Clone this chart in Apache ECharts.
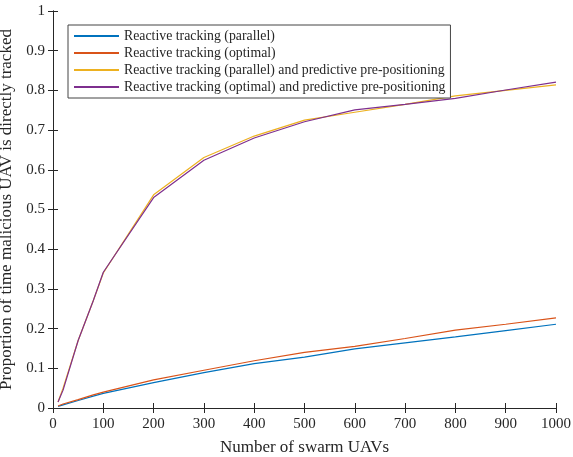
<!DOCTYPE html>
<html lang="en">
<head>
    <meta charset="UTF-8">
    <title>Swarm tracking</title>
    <script src="https://cdn.jsdelivr.net/npm/echarts@6/dist/echarts.min.js"></script>
    <style>
        html, body { margin: 0; padding: 0; background: #fff; }
        #chart { width: 573px; height: 457px; }
    </style>
</head>
<body>
    <div id="chart"></div>

    <script>
        // number of swarm UAVs
        var uavs = [10, 20, 50, 80, 100, 200, 300, 400, 500, 600, 700, 800, 900, 1000];

        var reactiveParallel = [0.004, 0.008, 0.019, 0.030, 0.037, 0.064, 0.089, 0.112, 0.128, 0.149, 0.164, 0.179, 0.195, 0.211];
        var reactiveOptimal = [0.005, 0.010, 0.021, 0.033, 0.040, 0.071, 0.095, 0.119, 0.140, 0.155, 0.175, 0.196, 0.211, 0.227];
        var predictiveParallel = [0.015, 0.050, 0.170, 0.270, 0.340, 0.537, 0.631, 0.685, 0.725, 0.745, 0.765, 0.786, 0.800, 0.814];
        var predictiveOptimal = [0.015, 0.045, 0.170, 0.270, 0.342, 0.530, 0.624, 0.680, 0.721, 0.751, 0.765, 0.780, 0.801, 0.821];

        var names = [
            'Reactive tracking (parallel)',
            'Reactive tracking (optimal)',
            'Reactive tracking (parallel) and predictive pre-positioning',
            'Reactive tracking (optimal) and predictive pre-positioning'
        ];
        var colors = ['#0072BD', '#D95319', '#EDB120', '#7E2F8E'];
        var values = [reactiveParallel, reactiveOptimal, predictiveParallel, predictiveOptimal];

        var font = "'Liberation Serif', 'Times New Roman', serif";
        var ink = '#262626';

        var s = [];
        for (var i = 0; i < values.length; i++) {
            var pts = [];
            for (var j = 0; j < uavs.length; j++) pts.push([uavs[j], values[i][j]]);
            s.push({
                name: names[i],
                type: 'line',
                data: pts,
                symbol: 'none',
                color: colors[i],
                lineStyle: { width: 1.2, color: colors[i] }
            });
        }

        var axisLine = { show: true, lineStyle: { color: ink, width: 1 } };
        var tick = { show: true, inside: true, length: 5, lineStyle: { color: ink } };

        var myChart = echarts.init(document.getElementById('chart'));
        myChart.setOption({
            animation: false,
            textStyle: { fontFamily: font },
            grid: { left: 53, right: 17, top: 11, bottom: 49, containLabel: false, outerBoundsMode: 'none' },
            legend: {
                orient: 'vertical',
                left: 68,
                top: 25,
                padding: [4, 5, 4, 5],
                itemWidth: 45,
                itemHeight: 14,
                itemGap: 3,
                itemStyle: { opacity: 0 },
                backgroundColor: '#fff',
                borderColor: '#444',
                borderWidth: 1,
                textStyle: { fontFamily: font, fontSize: 13.8, color: ink },
                data: names
            },
            xAxis: [{
                type: 'value',
                min: 0, max: 1000, interval: 100,
                position: 'bottom',
                axisLine: axisLine,
                axisTick: tick,
                splitLine: { show: false },
                axisLabel: {
                    fontFamily: font, fontSize: 15, color: ink, margin: 9,
                    formatter: function (v) { return String(v); }
                },
                name: 'Number of swarm UAVs',
                nameLocation: 'middle',
                nameGap: 31,
                nameTextStyle: { fontFamily: font, fontSize: 17, color: ink }
            }, {
                type: 'value',
                min: 0, max: 1000, interval: 100,
                position: 'top',
                axisLine: axisLine,
                axisTick: tick,
                splitLine: { show: false },
                axisLabel: { show: false }
            }],
            yAxis: [{
                type: 'value',
                min: 0, max: 1, interval: 0.1,
                position: 'left',
                axisLine: axisLine,
                axisTick: tick,
                splitLine: { show: false },
                axisLabel: {
                    fontFamily: font, fontSize: 15, color: ink, margin: 8,
                    formatter: function (v) { return String(Math.round(v * 10) / 10); }
                },
                name: 'Proportion of time malicious UAV is directly tracked',
                nameLocation: 'middle',
                nameGap: 37,
                nameTextStyle: { fontFamily: font, fontSize: 17, color: ink }
            }, {
                type: 'value',
                min: 0, max: 1, interval: 0.1,
                position: 'right',
                axisLine: axisLine,
                axisTick: tick,
                splitLine: { show: false },
                axisLabel: { show: false }
            }],
            series: s
        });
    </script>
</body>
</html>
